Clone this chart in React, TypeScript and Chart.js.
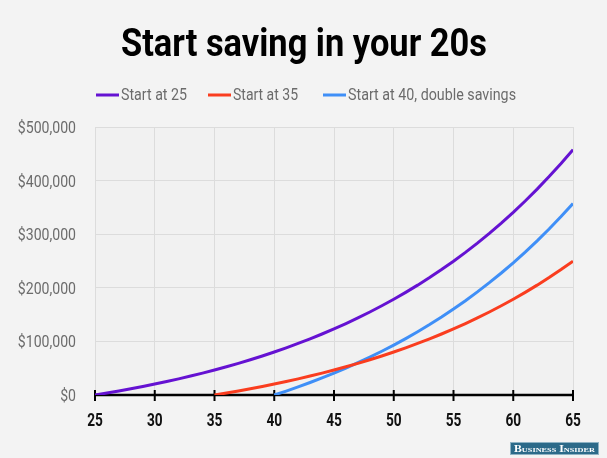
import React, { useEffect, useRef } from "react";
import { Chart, registerables } from "chart.js";

Chart.register(...registerables);

const TITLE = "Start saving in your 20s";
const SOURCE = "Business Insider";

const AGES = [
  25, 26, 27, 28, 29, 30, 31, 32, 33, 34, 35, 36, 37, 38, 39, 40, 41, 42, 43, 44, 45,
  46, 47, 48, 49, 50, 51, 52, 53, 54, 55, 56, 57, 58, 59, 60, 61, 62, 63, 64, 65,
];

const START_25 = [
  0, 3680, 7560, 11630, 15900, 20400, 25130, 30100, 35320, 40810, 46580, 52650, 59030,
  65730, 72780, 80190, 87970, 96160, 104760, 113800, 123310, 133300, 143810, 154850,
  166450, 178650, 191480, 204960, 219130, 234020, 249680, 266140, 283440, 301620,
  320740, 340830, 361950, 384150, 407490, 432020, 457810,
];

const START_35 = [
  null, null, null, null, null, null, null, null, null, null,
  0, 3680, 7560, 11630, 15900, 20400, 25130, 30100, 35320, 40810, 46580, 52650, 59030,
  65730, 72780, 80190, 87970, 96160, 104760, 113800, 123310, 133300, 143810, 154850,
  166450, 178650, 191480, 204960, 219130, 234020, 249680,
];

const START_40_DOUBLE = [
  null, null, null, null, null, null, null, null, null, null, null, null, null, null, null,
  0, 7360, 15120, 23260, 31800, 40800, 50260, 60200, 70640, 81620, 93160, 105300, 118060,
  131460, 145560, 160380, 175940, 192320, 209520, 227600, 246620, 266600, 287620, 309700,
  332900, 357300,
];

const SERIES_LABELS = ["Start at 25", "Start at 35", "Start at 40, double savings"];
const SERIES_COLORS = ["#6512d2", "#fa3d1f", "#3f8ff7"];
const SERIES_VALUES = [START_25, START_35, START_40_DOUBLE];

const X_MIN = 25;
const X_MAX = 65;
const X_STEP = 5;
const Y_MIN = 0;
const Y_MAX = 500000;
const Y_STEP = 100000;

const FONT = "Roboto, 'Liberation Sans', sans-serif";

function drawFitted(ctx: CanvasRenderingContext2D, text: string, x: number, y: number, maxW: number) {
  const w = ctx.measureText(text).width;
  const s = w > 0 ? maxW / w : 1;
  ctx.save();
  ctx.translate(x, y);
  ctx.scale(s, 1);
  ctx.fillText(text, 0, 0);
  ctx.restore();
}

function drawSqueezed(ctx: CanvasRenderingContext2D, text: string, x: number, y: number, sx: number) {
  ctx.save();
  ctx.translate(x, y);
  ctx.scale(sx, 1);
  ctx.fillText(text, 0, 0);
  ctx.restore();
}

const headerPlugin = {
  id: "header",
  beforeDraw(chart: any) {
    const { ctx, width, height, chartArea } = chart;
    ctx.save();
    ctx.fillStyle = "#f3f3f3";
    ctx.fillRect(0, 0, width, height);
    ctx.fillStyle = "#f1f1f1";
    ctx.fillRect(chartArea.left, chartArea.top, chartArea.right - chartArea.left, chartArea.bottom - chartArea.top);
    ctx.restore();
  },
  beforeDatasetsDraw(chart: any) {
    const { ctx, chartArea, scales } = chart;
    const x = scales.x;
    const yb = scales.y.getPixelForValue(Y_MIN);
    ctx.save();
    ctx.strokeStyle = "#000";
    ctx.lineWidth = 2.5;
    ctx.beginPath();
    ctx.moveTo(chartArea.left, yb);
    ctx.lineTo(chartArea.right, yb);
    ctx.stroke();
    ctx.lineWidth = 2;
    x.ticks.forEach((t: any) => {
      const px = x.getPixelForValue(t.value);
      ctx.beginPath();
      ctx.moveTo(px, yb - 5);
      ctx.lineTo(px, yb + 6);
      ctx.stroke();
    });
    ctx.restore();
  },
  afterDraw(chart: any) {
    const { ctx, scales } = chart;
    ctx.save();

    // Axis tick labels (condensed)
    const xs = scales.x;
    ctx.fillStyle = "#111";
    ctx.font = `bold 18px ${FONT}`;
    ctx.textAlign = "center";
    ctx.textBaseline = "middle";
    xs.ticks.forEach((t: any) => {
      drawSqueezed(ctx, String(t.label), xs.getPixelForValue(t.value), 421, 0.76);
    });
    const ys = scales.y;
    ctx.fillStyle = "#6b6b6b";
    ctx.font = `16px ${FONT}`;
    ctx.textAlign = "right";
    ys.ticks.forEach((t: any) => {
      drawSqueezed(ctx, String(t.label), 76, ys.getPixelForValue(t.value) + 2, 0.88);
    });

    // Title
    ctx.fillStyle = "#000";
    ctx.textBaseline = "alphabetic";
    ctx.textAlign = "left";
    ctx.font = `bold 38px ${FONT}`;
    drawFitted(ctx, TITLE, 121, 56, 366);

    // Legend
    const itemWidths = [66, 65, 168];
    const itemStarts = [96, 208, 323];
    ctx.font = `16px ${FONT}`;
    chart.data.datasets.forEach((ds: any, i: number) => {
      const x0 = itemStarts[i];
      ctx.strokeStyle = ds.borderColor;
      ctx.lineWidth = 3;
      ctx.beginPath();
      ctx.moveTo(x0, 95);
      ctx.lineTo(x0 + 23, 95);
      ctx.stroke();
      ctx.fillStyle = "#6b6b6b";
      ctx.textBaseline = "middle";
      drawFitted(ctx, ds.label, x0 + 25, 96, itemWidths[i]);
    });

    // Source logo
    ctx.fillStyle = "#2c6a89";
    ctx.fillRect(510, 442, 89, 13);
    ctx.strokeStyle = "#8fb3c4";
    ctx.lineWidth = 1;
    ctx.strokeRect(510.5, 442.5, 88, 12);
    ctx.fillStyle = "#ffffff";
    ctx.font = `bold 10px 'Liberation Serif', 'DejaVu Serif', serif`;
    (ctx as any).fontVariantCaps = "small-caps";
    ctx.textBaseline = "middle";
    drawFitted(ctx, SOURCE, 514, 449, 81);
    ctx.restore();
  },
};

export default function App() {
  const ref = useRef<HTMLCanvasElement | null>(null);

  useEffect(() => {
    if (!ref.current) return;
    const datasets = SERIES_VALUES.map((vals, i) => ({
      label: SERIES_LABELS[i],
      data: AGES.map((a, j) => ({ x: a, y: vals[j] })),
      borderColor: SERIES_COLORS[i],
      backgroundColor: SERIES_COLORS[i],
      borderWidth: 3,
      pointRadius: 0,
      tension: 0,
      spanGaps: false,
    }));
    const chart = new Chart(ref.current, {
      type: "line",
      data: { datasets },
      plugins: [headerPlugin],
      options: {
        animation: false,
        responsive: false,
        maintainAspectRatio: false,
        layout: { padding: { top: 127, right: 34, bottom: 0, left: 0 } },
        plugins: { legend: { display: false }, title: { display: false }, tooltip: { enabled: false } },
        scales: {
          x: {
            type: "linear",
            min: X_MIN,
            max: X_MAX,
            afterFit: (s: any) => { s.height = 63; },
            ticks: { stepSize: X_STEP, display: false },
            grid: { color: "#dcdcdc", lineWidth: 1, drawTicks: false },
            border: { display: false },
          },
          y: {
            min: Y_MIN,
            max: Y_MAX,
            afterFit: (s: any) => { s.width = 95; },
            ticks: {
              stepSize: Y_STEP,
              display: false,
              callback: (v: any) => "$" + Number(v).toLocaleString("en-US"),
            },
            grid: { color: "#dcdcdc", lineWidth: 1, drawTicks: false },
            border: { display: false },
          },
        },
      },
    });
    return () => chart.destroy();
  }, []);

  return (
    <div style={{ position: "fixed", left: 0, top: 0, width: 607, height: 458, background: "#f3f3f3" }}>
      <canvas ref={ref} width={607} height={458} style={{ display: "block", width: 607, height: 458 }} />
    </div>
  );
}
